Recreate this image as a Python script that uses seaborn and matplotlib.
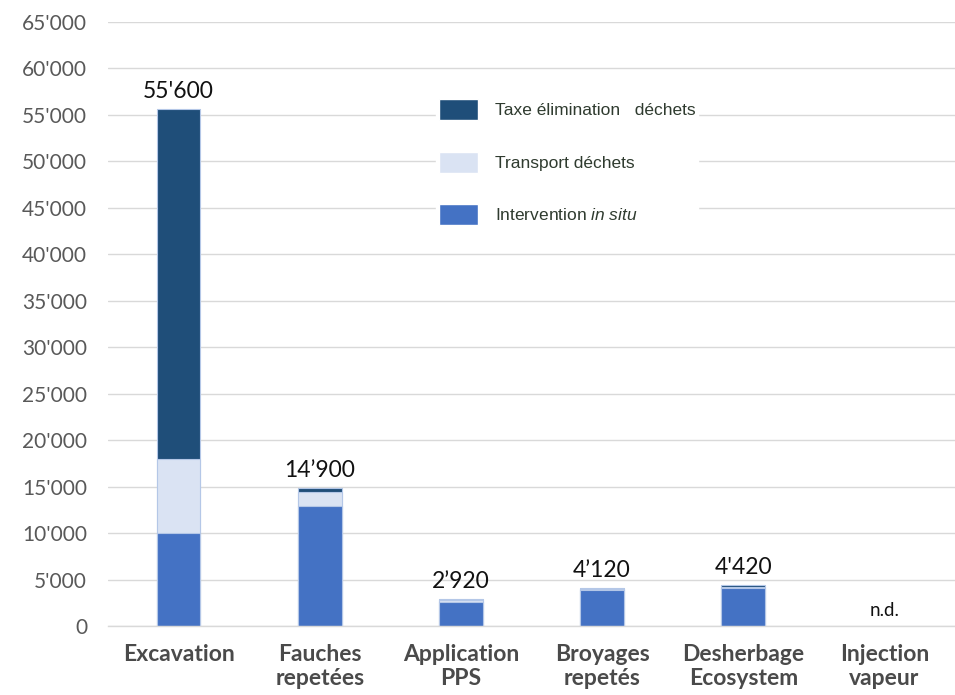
import matplotlib
matplotlib.use("Agg")
import matplotlib.pyplot as plt
from matplotlib.patches import Patch
import numpy as np
import pandas as pd
import seaborn as sns

# Cost breakdown per treatment method (CHF)
categories = ["Excavation", "Fauches\nrepetées", "Application\nPPS",
              "Broyages\nrepetés", "Desherbage\nEcosystem", "Injection\nvapeur"]
intervention = [10000, 12900, 2600, 3850, 4050, np.nan]
transport = [8000, 1500, 150, 120, 170, np.nan]
taxe = [37600, 500, 170, 150, 200, np.nan]
total_labels = ["55'600", "14’900", "2’920", "4’120", "4'420", "n.d."]

y_ticks = [0, 5000, 10000, 15000, 20000, 25000, 30000, 35000, 40000,
           45000, 50000, 55000, 60000, 65000]
y_tick_labels = ["0", "5'000", "10'000", "15'000", "20'000", "25'000", "30'000",
                 "35'000", "40'000", "45'000", "50'000", "55'000", "60'000", "65'000"]

series_names = ["Taxe élimination   déchets", "Transport déchets",
                "Intervention $\\it{in\\ situ}$"]
colors = {"taxe": "#1F4E79", "transport": "#DAE3F3", "intervention": "#4472C4"}

sns.set_theme(style="white")
plt.rcParams["font.family"] = ["Lato", "DejaVu Sans"]
plt.rcParams["mathtext.fontset"] = "custom"
plt.rcParams["mathtext.it"] = "Liberation Sans:italic"
plt.rcParams["mathtext.rm"] = "Liberation Sans"

df = pd.DataFrame({
    "categorie": categories,
    "intervention": intervention,
    "transport": transport,
    "taxe": taxe,
})
df["lvl1"] = df["intervention"]
df["lvl2"] = df["intervention"] + df["transport"]
df["lvl3"] = df["lvl2"] + df["taxe"]

fig = plt.figure(figsize=(9.55, 6.95), dpi=100)
ax = fig.add_axes([108 / 955, 1 - 626 / 695, 1 - 108 / 955, (626 - 22) / 695])

bar_w = 0.31
# cumulative layers drawn from the tallest down so each segment shows its own colour
for col, key in [("lvl3", "taxe"), ("lvl2", "transport"), ("lvl1", "intervention")]:
    sns.barplot(data=df, x="categorie", y=col, order=categories, color=colors[key],
                saturation=1, width=bar_w, edgecolor="#B4C7E7", linewidth=0.8,
                errorbar=None, ax=ax)

ax.set_xlim(-0.5, len(categories) - 0.5)
ax.set_ylim(0, 65000)
ax.set_yticks(y_ticks)
ax.set_yticklabels(y_tick_labels)
ax.set_xlabel("")
ax.set_ylabel("")
ax.yaxis.grid(True, color="#D9D9D9", linewidth=1)
ax.set_axisbelow(True)
for s in ["top", "right", "left"]:
    ax.spines[s].set_visible(False)
ax.spines["bottom"].set_color("#D9D9D9")
ax.spines["bottom"].set_linewidth(1)

ax.tick_params(axis="y", length=0, pad=15, labelsize=15, labelcolor="#595959")
ax.tick_params(axis="x", length=0, pad=13)
for lbl in ax.get_xticklabels():
    lbl.set_fontsize(16.5)
    lbl.set_fontweight("bold")
    lbl.set_color("#4A4A4A")
    lbl.set_linespacing(1.2)

# total labels above each bar
for i, txt in enumerate(total_labels):
    top = df["lvl3"].iloc[i]
    if np.isnan(top):
        top = 0
    ax.annotate(txt, (i, top), xytext=(0, 5), textcoords="offset points",
                ha="center", va="bottom", fontsize=16.5 if txt != "n.d." else 13.5,
                color="#111111")

handles = [Patch(facecolor=colors["taxe"]), Patch(facecolor=colors["transport"]),
           Patch(facecolor=colors["intervention"])]
leg = ax.legend(handles, series_names, loc="upper left",
                bbox_to_anchor=(0.3772, 0.891), frameon=True, framealpha=1,
                edgecolor="white", fancybox=False,
                prop={"family": "Liberation Sans", "size": 12.5},
                handlelength=2.25, handleheight=1.5, labelspacing=1.8,
                handletextpad=1.0, borderpad=0.15)
for t in leg.get_texts():
    t.set_color("#2F3B2F")

fig.savefig("out.png", dpi=100)
